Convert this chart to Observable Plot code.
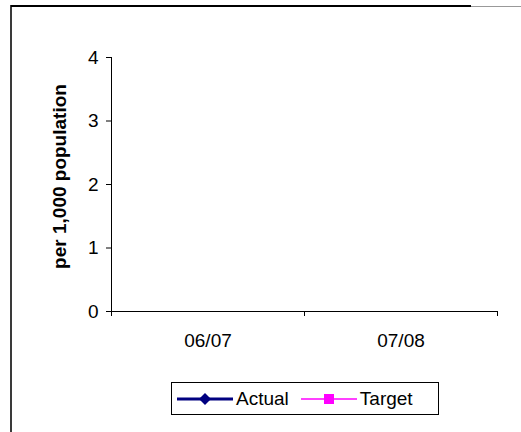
<!DOCTYPE html>
<html><head><meta charset="utf-8">
<script src="https://cdn.jsdelivr.net/npm/d3@7"></script>
<script src="https://cdn.jsdelivr.net/npm/@observablehq/plot@0.6"></script>
<style>
body{margin:0;background:#fff;font-family:"Liberation Sans",Arial,sans-serif;}
#wrap{position:relative;width:521px;height:432px;overflow:hidden;background:#fff;}
#wrap svg.plot{position:absolute;left:0;top:0;}
.fr{position:absolute;}
#legend{position:absolute;left:171px;top:382px;width:266px;height:31px;border:1px solid #000;
  display:flex;align-items:center;font-size:19px;color:#000;white-space:nowrap;}
#legend svg{display:block;flex:none;}
</style></head><body><div id="wrap"></div>
<script>
const categories = ["06/07", "07/08"];
const actual = [null, null];
const target = [null, null];
const yTicks = [0, 1, 2, 3, 4];
const yTitle = "per 1,000 population";
const seriesNames = ["Actual", "Target"];
const seriesColors = ["#000080", "#ff00ff"];

const actualRows = categories.map((c, i) => ({cat: c, pos: i + 0.5, value: actual[i]}));
const targetRows = categories.map((c, i) => ({cat: c, pos: i + 0.5, value: target[i]}));

const chart = Plot.plot({
  width: 521, height: 432,
  marginLeft: 111, marginRight: 24, marginTop: 57, marginBottom: 121,
  style: {fontFamily: "'Liberation Sans', Arial, sans-serif", fontSize: "19px", color: "#000", background: "transparent", overflow: "visible"},
  x: {domain: [0, categories.length], axis: null},
  y: {domain: [0, yTicks[yTicks.length - 1]], axis: null},
  marks: [
    Plot.ruleY([0], {stroke: "#000"}),
    Plot.ruleX([0], {stroke: "#000"}),
    Plot.axisY(yTicks, {tickSize: 5, tickPadding: 8, label: null, tickFormat: d => String(d)}),
    Plot.axisX(d3.range(categories.length + 1), {tickSize: 5, tickFormat: () => "", label: null}),
    Plot.axisX(categories.map((c, i) => i + 0.5), {tickSize: 0, tickPadding: 22, label: null, tickFormat: d => categories[Math.floor(d)]}),
    Plot.text([yTitle], {frameAnchor: "left", textAnchor: "middle", lineAnchor: "middle", rotate: -90, dx: -52, dy: -8, fontWeight: "bold", text: d => d}),
    Plot.line(actualRows, {x: "pos", y: "value", stroke: seriesColors[0], strokeWidth: 3}),
    Plot.dot(actualRows, {x: "pos", y: "value", fill: seriesColors[0], symbol: "diamond", r: 5}),
    Plot.line(targetRows, {x: "pos", y: "value", stroke: seriesColors[1], strokeWidth: 1.5}),
    Plot.dot(targetRows, {x: "pos", y: "value", fill: seriesColors[1], symbol: "square", r: 5})
  ]
});
chart.classList.add("plot");
const wrap = document.getElementById("wrap");
wrap.appendChild(chart);

// outer chart border (decorative)
const frames = [
  {l: 10, t: 5, w: 2, h: 427, c: "#3a3a3a"},
  {l: 11, t: 5, w: 460, h: 2, c: "#000"},
  {l: 471, t: 6, w: 50, h: 1, c: "#999"}
];
for (const f of frames) {
  const d = document.createElement("div");
  d.className = "fr";
  Object.assign(d.style, {left: f.l + "px", top: f.t + "px", width: f.w + "px", height: f.h + "px", background: f.c});
  wrap.appendChild(d);
}

// legend
const legend = document.createElement("div");
legend.id = "legend";
const ns = "http://www.w3.org/2000/svg";
seriesNames.forEach((name, k) => {
  const s = document.createElementNS(ns, "svg");
  s.setAttribute("width", 56); s.setAttribute("height", 14);
  s.style.marginLeft = k === 0 ? "5px" : "12px";
  const ln = document.createElementNS(ns, "line");
  ln.setAttribute("x1", 0); ln.setAttribute("x2", 56); ln.setAttribute("y1", 7); ln.setAttribute("y2", 7);
  ln.setAttribute("stroke", seriesColors[k]); ln.setAttribute("stroke-width", k === 0 ? 3 : 1.5);
  s.appendChild(ln);
  if (k === 0) {
    const p = document.createElementNS(ns, "path");
    p.setAttribute("d", "M28,1 L34,7 L28,13 L22,7 Z");
    p.setAttribute("fill", seriesColors[k]);
    s.appendChild(p);
  } else {
    const r = document.createElementNS(ns, "rect");
    r.setAttribute("x", 23); r.setAttribute("y", 2); r.setAttribute("width", 10); r.setAttribute("height", 10);
    r.setAttribute("fill", seriesColors[k]);
    s.appendChild(r);
  }
  legend.appendChild(s);
  const t = document.createElement("span");
  t.textContent = name;
  t.style.marginLeft = "3px";
  legend.appendChild(t);
});
wrap.appendChild(legend);
</script>
</body></html>
